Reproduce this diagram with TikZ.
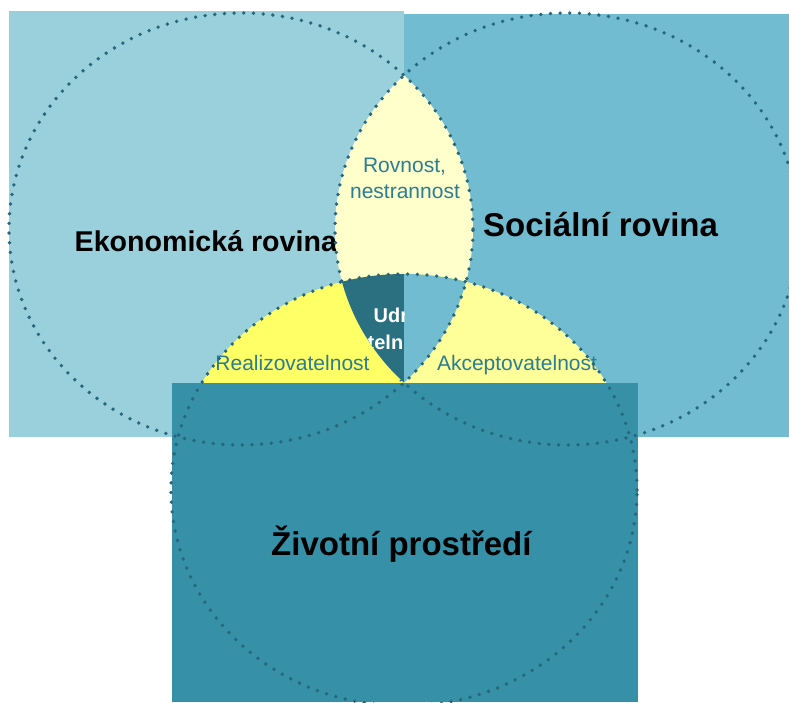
\documentclass[tikz,border=0pt]{standalone}
\usepackage{fontspec}
\setmainfont{Liberation Sans}
\usetikzlibrary{calc}

\definecolor{ekoblue}{HTML}{9ACFDC}
\definecolor{socblue}{HTML}{71BCD0}
\definecolor{envblue}{HTML}{3590A8}
\definecolor{dotteal}{HTML}{26677B}
\definecolor{coreteal}{HTML}{2A7080}
\definecolor{txtteal}{HTML}{2B7D94}
\definecolor{lensyellow}{HTML}{FFFFCC}
\definecolor{realyellow}{HTML}{FFFF66}
\definecolor{akcyellow}{HTML}{FFFF99}

\newcommand{\ekoellipse}{(241,229) ellipse [x radius=232pt, y radius=216pt]}
\newcommand{\socellipse}{(567,229) ellipse [x radius=232pt, y radius=216pt]}
\newcommand{\envellipse}{(404,490) ellipse [x radius=233pt, y radius=216pt]}

\tikzset{
  dotline/.style={draw=dotteal, line width=3.8pt, line cap=round, dash pattern=on 0pt off 9.7pt},
  planetext/.style={font=\bfseries\fontsize{33}{38}\selectfont, text=black, inner sep=0pt},
  smalltext/.style={font=\fontsize{21}{25}\selectfont, text=txtteal, inner sep=0pt},
}

\begin{document}
\begin{tikzpicture}[x=1pt, y=-1pt]
\useasboundingbox (0, 0) rectangle (789, 702);

\fill [ekoblue] (9, 11) rectangle (404, 437);
\fill [socblue] (404, 14) rectangle (789, 437);

\node [planetext, font=\bfseries\fontsize{28.6}{32}\selectfont, anchor=base west] (eko) at (74.5, 251.7) {Ekonomická rovina};
\node [planetext, anchor=base west] (soc) at (483, 236) {Sociální rovina};

\begin{scope}
\clip \ekoellipse;
\fill [lensyellow] \socellipse;
\fill [realyellow] \envellipse;
\end{scope}
\begin{scope}
\clip \socellipse;
\fill [akcyellow] \envellipse;
\end{scope}
\begin{scope}
\clip \ekoellipse;
\clip \socellipse;
\clip \envellipse;
\fill [coreteal] (0, 0) rectangle (404, 702);
\fill [socblue] (404, 0) rectangle (789, 702);
\clip (0, 0) rectangle (404, 702);
\node [font=\bfseries\fontsize{20}{24}\selectfont, text=white, inner sep=0pt, anchor=base west] (udr1) at (373.5, 322.7) {Udr};
\node [font=\bfseries\fontsize{20}{24}\selectfont, text=white, inner sep=0pt, anchor=base west] (udr2) at (367.5, 349) {teln};
\end{scope}

\node [smalltext, anchor=base] (rov1) at (404.5, 172.7) {Rovnost,};
\node [smalltext, anchor=base] (rov2) at (405, 198) {nestrannost};
\node [smalltext, anchor=base] (real) at (292.5, 370.7) {Realizovatelnost};
\node [smalltext, anchor=base] (akc) at (517, 370.7) {Akceptovatelnost};

\fill [envblue] (172, 383) rectangle (638, 702);

\draw [dotline] \ekoellipse;
\draw [dotline] \envellipse;
\begin{scope}
\clip (0, 0) -- (789, 0) -- (789, 702) -- (0, 702) -- cycle
      (338, 285) -- (338, 380) -- (403, 380) -- (403, 285) -- cycle;
\draw [dotline] \socellipse;
\end{scope}

\node [planetext, anchor=base west] (env) at (271, 555) {Životní prostředí};
\end{tikzpicture}
\end{document}
